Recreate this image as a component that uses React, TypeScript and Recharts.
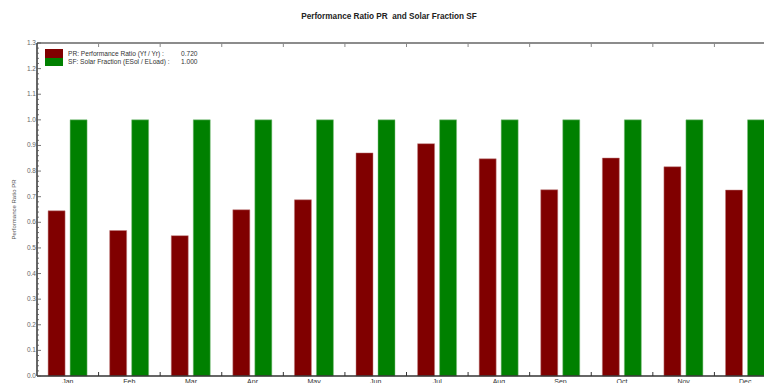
import { BarChart, Bar, XAxis, YAxis } from 'recharts';

const months = ['Jan', 'Feb', 'Mar', 'Apr', 'May', 'Jun', 'Jul', 'Aug', 'Sep', 'Oct', 'Nov', 'Dec'];
const prValues = [0.645, 0.568, 0.548, 0.649, 0.688, 0.871, 0.907, 0.848, 0.727, 0.851, 0.817, 0.726];
const sfValues = [1, 1, 1, 1, 1, 1, 1, 1, 1, 1, 1, 1];
const yTicks = Array.from({ length: 66 }, (_, i) => Math.round(i * 2) / 100);
const legendItems = [
  { label: 'PR: Performance Ratio (Yf / Yr) :', value: '0.720', color: '#800000' },
  { label: 'SF: Solar Fraction (ESol / ELoad) :', value: '1.000', color: '#008000' },
];

const data = months.map((m, i) => ({ month: m, pr: prValues[i], sf: sfValues[i] }));

const CHART_W = 790;
const CHART_H = 400;
const PLOT_LEFT = 37;
const PLOT_RIGHT = 776;
const BAND = (PLOT_RIGHT - PLOT_LEFT) / months.length;
const FONT = '"Liberation Sans", Arial, sans-serif';

function BottomTick(props: any) {
  const { x, y, payload } = props;
  return (
    <g>
      <line x1={x + BAND / 2} x2={x + BAND / 2} y1={y} y2={y - 4} stroke="#333" strokeWidth={1} />
      <text x={x} y={y + 8} textAnchor="middle" fontSize={7} fill="#333" fontFamily={FONT}>
        {payload.value}
      </text>
    </g>
  );
}

function TopTick(props: any) {
  const { x, y } = props;
  return <line x1={x + BAND / 2} x2={x + BAND / 2} y1={y} y2={y + 4} stroke="#888" strokeWidth={1} />;
}

function LeftTick(props: any) {
  const { x, y, payload } = props;
  const v = Math.round(payload.value * 100);
  const major = v % 10 === 0;
  return (
    <g>
      <line x1={x} x2={x + (major ? 4 : 2)} y1={y} y2={y} stroke="#555" strokeWidth={0.8} />
      {major && (
        <text x={x - 1} y={y + 2} textAnchor="end" fontSize={6.5} fill="#666" fontFamily={FONT}>
          {(v / 100).toFixed(1)}
        </text>
      )}
    </g>
  );
}

function YLabel(props: any) {
  const { viewBox } = props;
  const cx = 14;
  const cy = viewBox.y + viewBox.height / 2;
  return (
    <text
      x={cx}
      y={cy}
      transform={`rotate(-90 ${cx} ${cy})`}
      textAnchor="middle"
      dominantBaseline="central"
      fontSize={6}
      fill="#555"
      fontFamily={FONT}
    >
      Performance Ratio PR
    </text>
  );
}

function LegendBox() {
  return (
    <div
      style={{
        position: 'absolute',
        top: 49,
        left: 45,
        fontFamily: FONT,
        fontSize: 6.6,
        color: '#333',
      }}
    >
      {legendItems.map((it) => (
        <div key={it.label} style={{ display: 'flex', alignItems: 'center', height: 8.5 }}>
          <div style={{ width: 18, height: 8.5, background: it.color }} />
          <span style={{ marginLeft: 5, width: 113 }}>{it.label}</span>
          <span>{it.value}</span>
        </div>
      ))}
    </div>
  );
}

export default function App() {
  return (
    <div
      style={{
        position: 'fixed',
        left: 0,
        top: 0,
        width: 764,
        height: 383,
        overflow: 'hidden',
        background: '#fff',
      }}
    >
      <div
        style={{
          position: 'absolute',
          top: 12,
          left: 7,
          width: 764,
          textAlign: 'center',
          fontFamily: FONT,
          fontWeight: 'bold',
          fontSize: 8.2,
          color: '#222',
        }}
      >
        Performance Ratio PR&nbsp; and Solar Fraction SF
      </div>
      <BarChart
        width={CHART_W}
        height={CHART_H}
        data={data}
        margin={{ top: 42, right: CHART_W - PLOT_RIGHT, bottom: 4, left: 0 }}
        barCategoryGap="18%"
        barGap={5}
      >
        <XAxis
          dataKey="month"
          xAxisId="bottom"
          orientation="bottom"
          height={20}
          interval={0}
          tickLine={false}
          tickSize={0}
          tickMargin={0}
          axisLine={{ stroke: '#333', strokeWidth: 1.5 }}
          tick={<BottomTick />}
        />
        <XAxis
          dataKey="month"
          xAxisId="top"
          orientation="top"
          height={1}
          interval={0}
          tickLine={false}
          tickSize={0}
          tickMargin={0}
          axisLine={{ stroke: '#666', strokeWidth: 1.5 }}
          tick={<TopTick />}
        />
        <YAxis
          width={PLOT_LEFT}
          domain={[0, 1.3]}
          ticks={yTicks}
          interval={0}
          tickLine={false}
          tickSize={0}
          tickMargin={0}
          axisLine={{ stroke: '#333', strokeWidth: 1.5 }}
          tick={<LeftTick />}
          label={<YLabel />}
        />
        <Bar xAxisId="bottom" dataKey="pr" fill="#800000" stroke="#c08080" strokeWidth={0.5} isAnimationActive={false} />
        <Bar xAxisId="bottom" dataKey="sf" fill="#008000" stroke="#80c080" strokeWidth={0.5} isAnimationActive={false} />
      </BarChart>
      <LegendBox />
    </div>
  );
}
